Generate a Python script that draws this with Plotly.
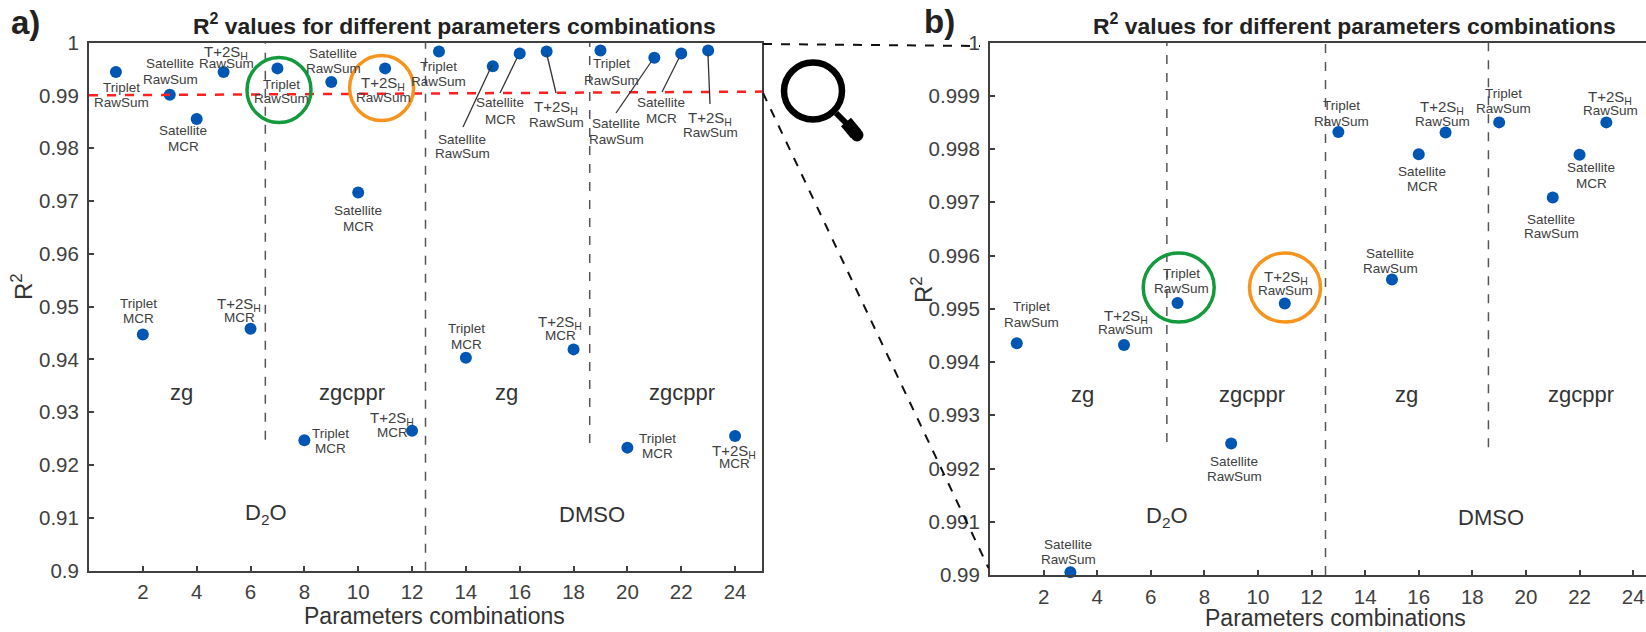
import plotly.graph_objects as go

W, H = 1646, 632

# ---------- data ----------
combos_a = list(range(1, 25))
r2_a = [0.9944, 0.9447, 0.9901, 0.9855, 0.9944, 0.9458, 0.9951, 0.9247, 0.9925, 0.9716, 0.9951, 0.9265,
        0.9983, 0.9403, 0.9955, 0.9979, 0.9983, 0.9419, 0.9985, 0.9233, 0.9971, 0.9979, 0.9985, 0.9255]
combos_b = [1, 3, 5, 7, 9, 11, 13, 15, 16, 17, 19, 21, 22, 23]
r2_b = [0.99435, 0.99005, 0.99432, 0.99511, 0.99247, 0.9951, 0.99832, 0.99555, 0.9979, 0.99831, 0.9985,
        0.99709, 0.99789, 0.9985]
x_ticks = list(range(2, 25, 2))
y_ticks_a = [0.9, 0.91, 0.92, 0.93, 0.94, 0.95, 0.96, 0.97, 0.98, 0.99, 1]
y_labels_a = ["0.9", "0.91", "0.92", "0.93", "0.94", "0.95", "0.96", "0.97", "0.98", "0.99", "1"]
y_ticks_b = [0.99, 0.991, 0.992, 0.993, 0.994, 0.995, 0.996, 0.997, 0.998, 0.999, 1]
y_labels_b = ["0.99", "0.991", "0.992", "0.993", "0.994", "0.995", "0.996", "0.997", "0.998", "0.999", "1"]

TR, SR, TM, SM, THR, THM = "tr", "sr", "tm", "sm", "thr", "thm"
NAMES = {
    "tr": ("Triplet", "RawSum"), "sr": ("Satellite", "RawSum"),
    "tm": ("Triplet", "MCR"), "sm": ("Satellite", "MCR"),
    "thr": ("T+2S<sub>H</sub>", "RawSum"), "thm": ("T+2S<sub>H</sub>", "MCR"),
}

# ---------- layout constants (pixels) ----------
AX_A = dict(l=89, r=762, t=42.5, b=570.7)
AX_B = dict(l=990, r=1646, t=42.5, b=575)
DARK = "#404040"
BLUE = "#0057B3"
FONT = "Liberation Sans"


def px(x):
    return x / W


def py(y):
    return 1 - y / H


# kind, centre x, first line y, second line y
labels = [
    (TR, 121, 88, 103), (TM, 138, 303, 318), (SR, 170, 64, 79), (SM, 183, 130, 146), (THR, 226, 52, 64),
    (THM, 239, 304, 317), (TR, 281, 84, 99), (TM, 330, 433, 448), (SR, 333, 53, 68), (SM, 358, 210, 226),
    (THR, 383, 83, 97), (THM, 392, 418, 432), (TR, 438, 66, 81), (TM, 466, 328, 344), (SR, 462, 139, 154),
    (SM, 500, 103, 119), (THR, 556, 107, 122), (THM, 560, 323, 336), (TR, 611, 64, 80), (TM, 657, 438, 453),
    (SR, 616, 124, 139), (SM, 661, 103, 118), (THR, 710, 118, 132), (THM, 734, 451, 463),
    (TR, 1031, 307, 323), (SR, 1068, 544, 559), (THR, 1125.5, 316, 329), (TR, 1181.6, 273, 288),
    (SR, 1234, 461, 476), (THR, 1285.7, 277, 290), (TR, 1341, 105, 121), (SR, 1390, 253, 268),
    (SM, 1422, 171, 186), (THR, 1442, 107, 121), (TR, 1503, 93, 108), (SR, 1551, 219, 234),
    (SM, 1591, 168, 183), (THR, 1610, 97, 110),
]
plain_text = [
    ("zg", 181, 392), ("zgcppr", 352, 392), ("zg", 506, 392), ("zgcppr", 682, 392),
    ("D<sub>2</sub>O", 266, 514), ("DMSO", 592, 514),
    ("zg", 1082, 394), ("zgcppr", 1252, 394), ("zg", 1406, 394), ("zgcppr", 1581, 394),
    ("D<sub>2</sub>O", 1166.5, 517), ("DMSO", 1491, 517),
]

fig = go.Figure()
for xs, ys, xa, ya in [(combos_a, r2_a, "x", "y"), (combos_b, r2_b, "x2", "y2")]:
    fig.add_trace(go.Scatter(x=xs, y=ys, xaxis=xa, yaxis=ya, mode="markers", cliponaxis=False,
                             marker=dict(size=12, color=BLUE), showlegend=False))

ann = []


def text(t, x, y, size, color=DARK, angle=0, bold=False):
    ann.append(dict(text=f"<b>{t}</b>" if bold else t, x=px(x), y=py(y), xref="paper", yref="paper",
                    xanchor="center", yanchor="middle", showarrow=False, textangle=angle,
                    font=dict(family=FONT, size=size, color=color)))


for kind, cx, y1, y2 in labels:
    l1, l2 = NAMES[kind]
    text(l1, cx, y1, 15 if kind in (THR, THM) else 13.5)
    text(l2, cx, y2, 13.5)
for t, x, y in plain_text:
    text(t, x, y, 22, "#333333")
text("R<sup>2</sup> values for different parameters combinations", 455, 24, 22.9, "#222222", bold=True)
text("R<sup>2</sup> values for different parameters combinations", 1354, 24, 22.9, "#222222", bold=True)
text("Parameters combinations", 434, 616, 23, "#333333")
text("Parameters combinations", 1335, 617.5, 23, "#333333")
text("R<sup>2</sup>", 22, 287, 24, "#333333", angle=-90)
text("R<sup>2</sup>", 922, 289, 24, "#333333", angle=-90)
text("a)", 25, 23, 33, "#222222", bold=True)
text("b)", 939, 22, 33, "#222222", bold=True)

shapes = []


def vdash(x, y0, y1, xa, ya):
    shapes.append(dict(type="line", x0=x, x1=x, y0=y0, y1=y1, xref=xa, yref=ya,
                       line=dict(color="#555555", width=1.5, dash="dash")))


vdash(6.55, 0.9248, 1, "x", "y")
vdash(12.5, 0.9, 1, "x", "y")
vdash(18.6, 0.9242, 1, "x", "y")
vdash(6.6, 0.9925, 1, "x2", "y2")
vdash(12.52, 0.99, 1, "x2", "y2")
vdash(18.6, 0.9924, 1, "x2", "y2")
shapes.append(dict(type="line", x0=0, x1=25, y0=0.99, y1=0.9907, xref="x", yref="y",
                   line=dict(color="#FF2020", width=2.5, dash="dash")))


def pline(x0, y0, x1, y1, color="#333333", width=1.3, dash=None):
    shapes.append(dict(type="line", x0=px(x0), x1=px(x1), y0=py(y0), y1=py(y1), xref="paper", yref="paper",
                       line=dict(color=color, width=width, dash=dash)))


def ring(cx, cy, rx, ry, color, width=3.5):
    shapes.append(dict(type="circle", x0=px(cx - rx), x1=px(cx + rx), y0=py(cy + ry), y1=py(cy - ry),
                       xref="paper", yref="paper", line=dict(color=color, width=width)))


# leader lines
pline(492, 65, 463, 127)
pline(517, 58, 500, 93)
pline(547, 55, 556, 93)
pline(651, 62, 616, 113)
pline(679, 58, 662, 92)
pline(708, 55, 710, 104)
# zoom connectors
pline(763, 44, 980, 46, "#111111", 2, "dash")
pline(763, 93, 988.5, 568, "#111111", 2, "dash")
# highlight rings
ring(279, 90, 32, 32.5, "#129A3C")
ring(381.6, 88, 32, 32.5, "#F7941D")
ring(1178.7, 287.5, 35.5, 34.5, "#129A3C")
ring(1285, 287.5, 35.5, 34.5, "#F7941D")
# magnifying glass
ring(813, 91, 29, 28.5, "#000000", 6.5)
pline(836, 113, 846, 123, "#000000", 6)
pline(846, 122, 856, 134, "#000000", 13)
ring(857, 135, 6, 6, "#000000", 1)
shapes[-1]["fillcolor"] = "#000000"


def axes(ax, xrange, yrange, yt, yl):
    common = dict(showgrid=False, zeroline=False, showline=True, linecolor=DARK, linewidth=2, mirror=True,
                  automargin=False, ticks="inside", ticklen=5, tickcolor=DARK, tickwidth=1.5,
                  tickfont=dict(family=FONT, size=20.5, color=DARK))
    xa = dict(common, domain=[px(ax["l"]), px(ax["r"])], range=xrange, tickmode="array", tickvals=x_ticks,
              ticktext=[str(v) for v in x_ticks], ticklabelstandoff=2)
    ya = dict(common, domain=[py(ax["b"]), py(ax["t"])], range=yrange, tickmode="array", tickvals=yt,
              ticktext=yl, ticklabelstandoff=4)
    return xa, ya


xa1, ya1 = axes(AX_A, [0, 25], [0.9, 1], y_ticks_a, y_labels_a)
xa2, ya2 = axes(AX_B, [0, 24.48], [0.99, 1], y_ticks_b, y_labels_b)
xa2["anchor"] = "y2"
ya2["anchor"] = "x2"

fig.update_layout(width=W, height=H, margin=dict(l=0, r=0, t=0, b=0, pad=0, autoexpand=False),
                  plot_bgcolor="white", paper_bgcolor="white",
                  xaxis=xa1, yaxis=ya1, xaxis2=xa2, yaxis2=ya2, annotations=ann, shapes=shapes, showlegend=False)
fig.write_html("out.html", config=dict(displayModeBar=False), post_script="document.body.style.margin='0';")
